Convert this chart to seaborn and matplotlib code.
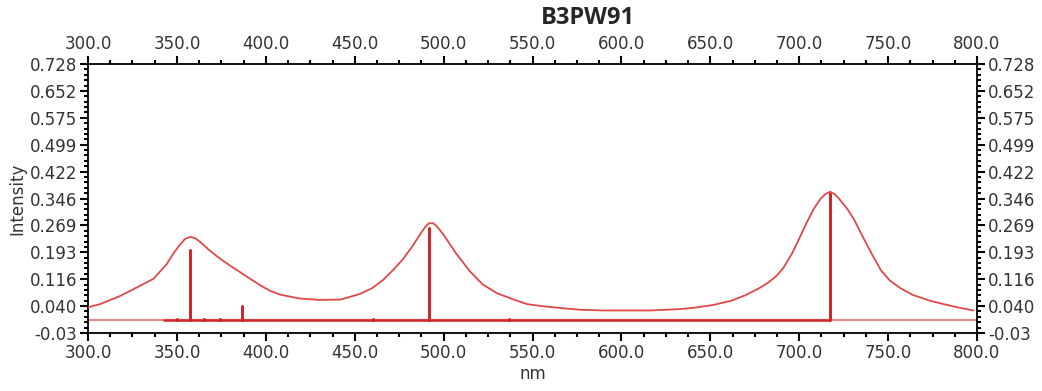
import numpy as np
import pandas as pd
import seaborn as sns
import matplotlib
matplotlib.use("Agg")
import matplotlib.pyplot as plt
from matplotlib.ticker import AutoMinorLocator, FixedLocator, FixedFormatter, FormatStrFormatter

# ---- data ----
curve_nm = [300, 306.7, 318, 329.2, 336.8, 344.3, 348, 351.7, 354.5, 357.5, 360, 363, 368, 374, 380, 385.5, 390, 396.7,
            402, 408, 419, 430, 442, 453, 460, 466, 472, 477, 482, 487, 489.5, 491.5, 494, 496, 500,
            507, 515, 522, 530, 540, 547, 556, 566, 577, 590, 605, 616, 625, 633, 643,
            652, 662, 670, 677, 682, 687, 691, 696, 700, 704, 708, 712, 714.5, 717, 719.5, 722, 727,
            731, 736, 741, 746, 751, 757, 764, 774, 783, 790, 798]
curve_int = [0.037, 0.046, 0.069, 0.098, 0.118, 0.160, 0.190, 0.215, 0.231, 0.237, 0.234, 0.223, 0.200, 0.176, 0.155, 0.137, 0.122, 0.100,
             0.085, 0.073, 0.062, 0.058, 0.059, 0.075, 0.092, 0.115, 0.145, 0.173, 0.207, 0.246, 0.264, 0.275, 0.276, 0.268, 0.243,
             0.190, 0.138, 0.102, 0.077, 0.058, 0.046, 0.040, 0.035, 0.030, 0.028, 0.028, 0.028, 0.030, 0.032, 0.037,
             0.044, 0.056, 0.072, 0.090, 0.105, 0.125, 0.148, 0.190, 0.232, 0.275, 0.315, 0.345, 0.358, 0.364, 0.360, 0.348, 0.317,
             0.285, 0.235, 0.187, 0.142, 0.113, 0.091, 0.072, 0.055, 0.044, 0.036, 0.028]

stick_nm = [343, 350, 357.6, 365, 374, 386.8, 416, 460, 491.6, 537, 625, 717.3]
stick_int = [0.002, 0.003, 0.201, 0.004, 0.004, 0.042, 0.002, 0.003, 0.262, 0.003, 0.002, 0.365]

x_ticks = [300.0, 350.0, 400.0, 450.0, 500.0, 550.0, 600.0, 650.0, 700.0, 750.0, 800.0]
y_tick_labels = ["-0.03", "0.040", "0.116", "0.193", "0.269", "0.346", "0.422",
                 "0.499", "0.575", "0.652", "0.728"]
y_min, y_max = -0.036, 0.728

title = "B3PW91"
x_label = "nm"
y_label = "Intensity"

# ---- plot ----
sns.set_style("ticks")
plt.rcParams['font.family'] = ['DejaVu Sans']

fig = plt.figure(figsize=(10.42, 3.91), dpi=100)
ax = fig.add_axes([0.0845, 0.1483, 0.8531, 0.688])

df = pd.DataFrame({"nm": curve_nm, "Intensity": curve_int})
ax.axhline(0, color="#e88a8a", lw=1.6, zorder=1)

# stick spectrum as a single polyline
sx, sy = [], []
for x, h in zip(stick_nm, stick_int):
    sx += [x, x, x]
    sy += [0, h, 0]
ax.plot(sx, sy, color="#d02828", lw=1.8, zorder=2)

sns.lineplot(data=df, x="nm", y="Intensity", ax=ax, color="#e04848", lw=1.3, zorder=3)

ax.set_xlim(300, 800)
ax.set_ylim(y_min, y_max)
ax.xaxis.set_major_locator(FixedLocator(x_ticks))
ax.xaxis.set_major_formatter(FormatStrFormatter('%.1f'))
ax.xaxis.set_minor_locator(AutoMinorLocator(4))
yt = np.linspace(y_min, y_max, len(y_tick_labels))
ax.yaxis.set_major_locator(FixedLocator(yt))
ax.yaxis.set_major_formatter(FixedFormatter(y_tick_labels))
ax.yaxis.set_minor_locator(AutoMinorLocator(5))

ax.tick_params(which="both", direction="out", top=True, right=True,
               labeltop=True, labelright=True, color="black")
ax.tick_params(which="major", length=6, width=1.5, labelsize=12, labelcolor="#333333", pad=2)
ax.tick_params(which="minor", length=3, width=1.5)
for s in ax.spines.values():
    s.set_color("black")
    s.set_linewidth(1.3)

ax.set_xlabel(x_label, fontsize=12, color="#333333", labelpad=2)
ax.set_ylabel(y_label, fontsize=12, color="#333333", labelpad=2)

fig.text(0.564, 0.955, title, ha="center", va="center", fontsize=17,
         fontweight="bold", family="Open Sans")

fig.savefig("out.png", dpi=100)
